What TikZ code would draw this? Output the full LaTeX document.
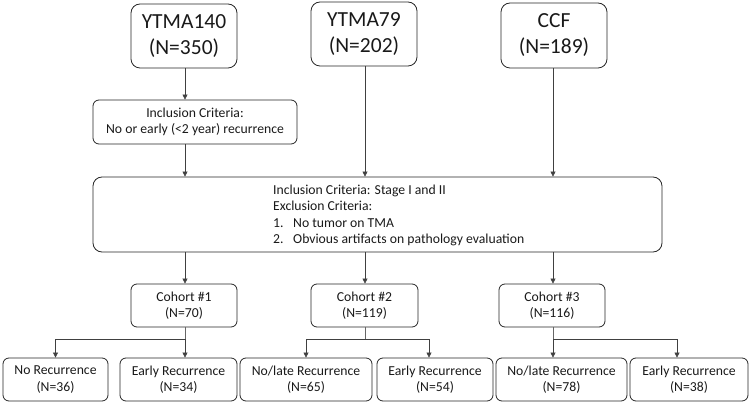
\documentclass[tikz,border=0pt]{standalone}
\usepackage{fontspec}
\setmainfont{Carlito}
\usetikzlibrary{arrows.meta}
\begin{document}
\begin{tikzpicture}[x=1pt,y=-1pt,
  box/.style={draw=black!85, rounded corners=6pt, line width=0.8pt, align=center, inner sep=0pt, text=black!90, font=\fontsize{13.7}{16.3}\selectfont},
  bigbox/.style={box, rounded corners=9pt, font=\fontsize{21.5}{26}\selectfont},
  arr/.style={-{Triangle[length=5pt,width=5pt]}, draw=black!75, line width=0.6pt},
  ln/.style={draw=black!60, line width=0.6pt}]
\useasboundingbox (0,0) rectangle (750,403);
% sources
\node[bigbox, minimum width=106pt, minimum height=64pt] (ytma140) at (184,36) {YTMA140\\(N=350)};
\node[bigbox, minimum width=106pt, minimum height=64pt] (ytma79) at (364,34) {YTMA79\\(N=202)};
\node[bigbox, minimum width=106pt, minimum height=65pt] (ccf) at (554,35.5) {CCF\\(N=189)};
% inclusion
\node[box, minimum width=204pt, minimum height=44pt] (incl) at (195,122) {Inclusion Criteria:\\No or early (<2 year) recurrence};
% main criteria box
\node[box, rounded corners=9pt, minimum width=569pt, minimum height=75pt] (main) at (377.5,214.5) {};
\node[anchor=west, align=left, inner sep=0pt, text=black!90, font=\fontsize{13.7}{16.3}\selectfont] (crit) at (273,215.5) {Inclusion Criteria: Stage I and II\\Exclusion Criteria:\\\makebox[20pt][l]{1.}No tumor on TMA\\\makebox[20pt][l]{2.}Obvious artifacts on pathology evaluation};
% cohorts
\node[box, minimum width=106pt, minimum height=43pt] (c1) at (184,305.5) {Cohort \#1\\(N=70)};
\node[box, minimum width=107pt, minimum height=43pt] (c2) at (364.5,305.5) {Cohort \#2\\(N=119)};
\node[box, minimum width=106pt, minimum height=43pt] (c3) at (552,305.5) {Cohort \#3\\(N=116)};
% outcomes
\node[box, minimum width=105pt, minimum height=43pt] (b1) at (55.5,379.5) {No Recurrence\\(N=36)};
\node[box, minimum width=117pt, minimum height=43pt] (b2) at (178.5,379.5) {Early Recurrence\\(N=34)};
\node[box, minimum width=132pt, minimum height=43pt] (b3) at (306,379.5) {No/late Recurrence\\(N=65)};
\node[box, minimum width=116pt, minimum height=43pt] (b4) at (435,379.5) {Early Recurrence\\(N=54)};
\node[box, minimum width=131pt, minimum height=43pt] (b5) at (561.5,379.5) {No/late Recurrence\\(N=78)};
\node[box, minimum width=118pt, minimum height=43pt] (b6) at (689,379.5) {Early Recurrence\\(N=38)};
% connectors top
\coordinate (x1) at (185,0);
\coordinate (x2) at (365,0);
\coordinate (x3) at (553,0);
\draw[arr] (x1 |- ytma140.south) -- (x1 |- incl.north);
\draw[arr] (x1 |- incl.south) -- (x1 |- main.north);
\draw[arr] (x2 |- ytma79.south) -- (x2 |- main.north);
\draw[arr] (x3 |- ccf.south) -- (x3 |- main.north);
% to cohorts
\draw[arr] (x1 |- main.south) -- (x1 |- c1.north);
\draw[arr] (x2 |- main.south) -- (x2 |- c2.north);
\draw[arr] (x3 |- main.south) -- (x3 |- c3.north);
% branches
\coordinate (j1) at (185,339);
\coordinate (j2) at (365,339);
\coordinate (j3) at (553,339);
\draw[ln] (x1 |- c1.south) -- (j1);
\draw[ln] (x2 |- c2.south) -- (j2);
\draw[ln] (x3 |- c3.south) -- (j3);
\draw[arr] (j1) -| (b1.north);
\draw[arr] (j1) -- (j1 |- b2.north);
\draw[arr] (j2) -| (b3.north);
\draw[arr] (j2) -| ([xshift=-6pt]b4.north);
\draw[arr] (j3) -- (j3 |- b5.north);
\draw[arr] (j3) -| ([xshift=-12pt]b6.north);
\end{tikzpicture}
\end{document}
